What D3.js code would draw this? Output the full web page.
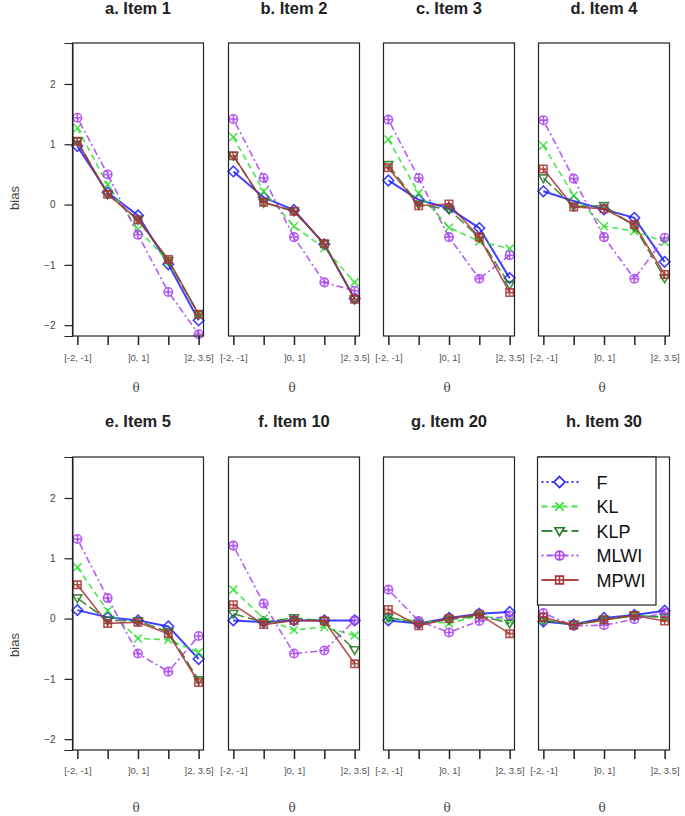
<!DOCTYPE html>
<html><head><meta charset="utf-8">
<script src="https://cdn.jsdelivr.net/npm/d3@7"></script>
<style>body{margin:0;background:#fff}svg{display:block}</style>
</head><body>
<script>
const categories = ["[-2, -1]", "]-1, 0]", "]0, 1]", "]1, 2]", "]2, 3.5]"];
const panelTitles = ["a. Item 1","b. Item 2","c. Item 3","d. Item 4","e. Item 5","f. Item 10","g. Item 20","h. Item 30"];
const methods = ["F","KL","KLP","MLWI","MPWI"];
const yTicks = [-2,-1,0,1,2];
// bias values per panel, per method
const F    = [[0.97,0.20,-0.18,-0.99,-1.92],[0.55,0.12,-0.09,-0.66,-1.56],[0.40,0.08,-0.06,-0.39,-1.22],[0.22,0.06,-0.08,-0.22,-0.95],
              [0.14,0.02,-0.03,-0.13,-0.67],[-0.03,-0.06,-0.03,-0.03,-0.03],[-0.03,-0.08,0.01,0.08,0.11],[-0.05,-0.10,0.01,0.06,0.13]];
const KL   = [[1.27,0.33,-0.41,-0.94,-1.82],[1.12,0.22,-0.36,-0.72,-1.29],[1.08,0.19,-0.38,-0.61,-0.73],[0.98,0.15,-0.36,-0.44,-0.62],
              [0.85,0.13,-0.33,-0.35,-0.56],[0.48,0.00,-0.19,-0.14,-0.28],[0.00,-0.04,-0.08,0.05,-0.03],[-0.01,-0.10,-0.03,0.05,0.03]];
const KLP  = [[1.05,0.17,-0.25,-0.93,-1.82],[0.81,0.03,-0.11,-0.65,-1.57],[0.66,0.00,-0.08,-0.55,-1.33],[0.44,-0.03,-0.02,-0.36,-1.22],
              [0.34,-0.03,-0.04,-0.22,-1.02],[0.08,-0.06,0.01,-0.04,-0.52],[0.02,-0.08,-0.02,0.05,-0.08],[-0.03,-0.10,-0.02,0.05,0.02]];
const MLWI = [[1.44,0.50,-0.50,-1.45,-2.15],[1.42,0.44,-0.54,-1.29,-1.43],[1.41,0.44,-0.54,-1.23,-0.84],[1.40,0.43,-0.54,-1.23,-0.55],
              [1.32,0.34,-0.58,-0.88,-0.29],[1.21,0.25,-0.58,-0.53,-0.03],[0.48,-0.04,-0.23,-0.04,0.05],[0.09,-0.12,-0.11,-0.01,0.09]];
const MPWI = [[1.05,0.17,-0.25,-0.91,-1.82],[0.81,0.04,-0.11,-0.65,-1.57],[0.61,-0.02,0.01,-0.54,-1.46],[0.59,-0.04,-0.07,-0.33,-1.16],
              [0.56,-0.08,-0.06,-0.25,-1.06],[0.23,-0.10,-0.03,-0.04,-0.75],[0.15,-0.12,0.00,0.07,-0.25],[0.02,-0.11,-0.02,0.05,-0.04]];
const seriesData = {F, KL, KLP, MLWI, MPWI};

const style = {
  F:    {color:"#1f1fff", dash:null,        legendDash:"2,3", width:2,   marker:"diamond"},
  KL:   {color:"#2fe02f", dash:"6,4",       legendDash:"6,4", width:1.6, marker:"x"},
  KLP:  {color:"#237a23", dash:"11,4",      legendDash:"11,4", width:1.6, marker:"tri"},
  MLWI: {color:"#a83ff0", dash:"2,3,7,3",   legendDash:"2,3,7,3", width:1.6, marker:"circplus"},
  MPWI: {color:"#a83232", dash:null,        legendDash:null, width:1.6, marker:"sqplus"}
};

const W = 685, H = 816;
const svg = d3.select("body").append("svg").attr("width",W).attr("height",H)
  .style("font-family","'Liberation Sans', Arial, sans-serif");

const lefts = [72.5, 228.5, 383.5, 538.5];
const tops = [43, 457];
const pw = 131, ph = 293;

function markerPath(type, s){
  const r = s;
  switch(type){
    case "diamond": return `M0,${-r}L${r},0L0,${r}L${-r},0Z`;
    case "x": return `M${-r*0.75},${-r*0.75}L${r*0.75},${r*0.75}M${-r*0.75},${r*0.75}L${r*0.75},${-r*0.75}`;
    case "tri": return `M${-r*0.85},${-r*0.6}L${r*0.85},${-r*0.6}L0,${r*0.85}Z`;
    case "circplus": return `M${r*0.8},0A${r*0.8},${r*0.8} 0 1,1 ${-r*0.8},0A${r*0.8},${r*0.8} 0 1,1 ${r*0.8},0M${-r*0.8},0L${r*0.8},0M0,${-r*0.8}L0,${r*0.8}`;
    case "sqplus": return `M${-r*0.7},${-r*0.7}H${r*0.7}V${r*0.7}H${-r*0.7}ZM${-r*0.7},0H${r*0.7}M0,${-r*0.7}V${r*0.7}`;
  }
}

panelTitles.forEach((title, p) => {
  const row = Math.floor(p/4), col = p % 4;
  const L = lefts[col], T = tops[row];
  const x = d3.scaleLinear().domain([0.84, 5.16]).range([L, L+pw]);
  const y = d3.scaleLinear().domain([-2.18, 2.68]).range([T+ph, T]);
  const g = svg.append("g");

  // title
  g.append("text").attr("x", L+pw/2).attr("y", row===0 ? 14 : 427)
    .attr("text-anchor","middle").attr("font-weight","bold").attr("font-size",16.5).attr("fill","#222").text(title);

  // series
  methods.forEach(m => {
    const st = style[m];
    const vals = seriesData[m][p];
    const line = d3.line().x((d,i)=>x(i+1)).y(d=>y(d));
    g.append("path").attr("d", line(vals)).attr("fill","none")
      .attr("stroke", st.color).attr("stroke-width", st.width).attr("stroke-opacity",0.85)
      .attr("stroke-dasharray", st.dash);
    g.selectAll(null).data(vals).enter().append("path")
      .attr("transform",(d,i)=>`translate(${x(i+1)},${y(d)})`)
      .attr("d", markerPath(st.marker, 5.3)).attr("fill","none")
      .attr("stroke", st.color).attr("stroke-width",1.6).attr("stroke-opacity",0.85);
  });

  // box
  g.append("rect").attr("x",L).attr("y",T).attr("width",pw).attr("height",ph)
    .attr("fill","none").attr("stroke","#222").attr("stroke-width",1.2);

  // x axis
  const xa = d3.axisBottom(x).tickValues([1,2,3,4,5]).tickSize(9).tickPadding(row===0?9:8)
    .tickFormat((d,i)=> (i%2===0) ? categories[i] : "");
  const xg = g.append("g").attr("transform",`translate(0,${T+ph})`).call(xa);
  xg.select(".domain").remove();
  xg.selectAll("line").attr("stroke","#222").attr("stroke-width",1.5);
  xg.selectAll("text").attr("font-size",9.5).attr("fill","#555").attr("font-family","'Liberation Sans', Arial, sans-serif");

  g.append("text").attr("x", L+pw/2 - 2).attr("y", row===0 ? 392 : 812)
    .attr("text-anchor","middle").attr("font-size",12).attr("fill","#444")
    .attr("font-family","'DejaVu Serif', serif").text("θ");

  // y axis
  if (col === 0) {
    const ya = d3.axisLeft(y).tickValues(yTicks).tickSize(8).tickPadding(9).tickFormat(d3.format("d"));
    const yg = g.append("g").attr("transform",`translate(${L},0)`).call(ya);
    yg.select(".domain").attr("stroke","#222");
    yg.selectAll("line").attr("stroke","#222").attr("stroke-width",1.2);
    yg.selectAll("text").attr("font-size",10).attr("fill","#444").attr("font-family","'Liberation Sans', Arial, sans-serif");
    const by = row===0 ? 198 : 645;
    g.append("text").attr("transform",`translate(19,${by}) rotate(-90)`).attr("text-anchor","middle")
      .attr("font-size",13).attr("fill","#444").text("bias");
  }

  // legend in last panel
  if (p === 7) {
    const lg = svg.append("g");
    lg.append("rect").attr("x",L-1).attr("y",T).attr("width",118.5).attr("height",148)
      .attr("fill","#fff").attr("stroke","#222").attr("stroke-width",1.2);
    methods.forEach((m,i) => {
      const st = style[m];
      const ly = T + 25 + i*24.5;
      lg.append("line").attr("x1",L+3).attr("x2",L+40).attr("y1",ly).attr("y2",ly)
        .attr("stroke",st.color).attr("stroke-width",1.8).attr("stroke-dasharray",st.legendDash).attr("stroke-opacity",0.9);
      lg.append("path").attr("transform",`translate(${L+21},${ly})`).attr("d",markerPath(st.marker,5.5))
        .attr("fill","#fff").attr("stroke",st.color).attr("stroke-width",1.6);
      lg.append("text").attr("x",L+58).attr("y",ly+6.5).attr("font-size",18).attr("fill","#111").text(m);
    });
  }
});
</script>
</body></html>
